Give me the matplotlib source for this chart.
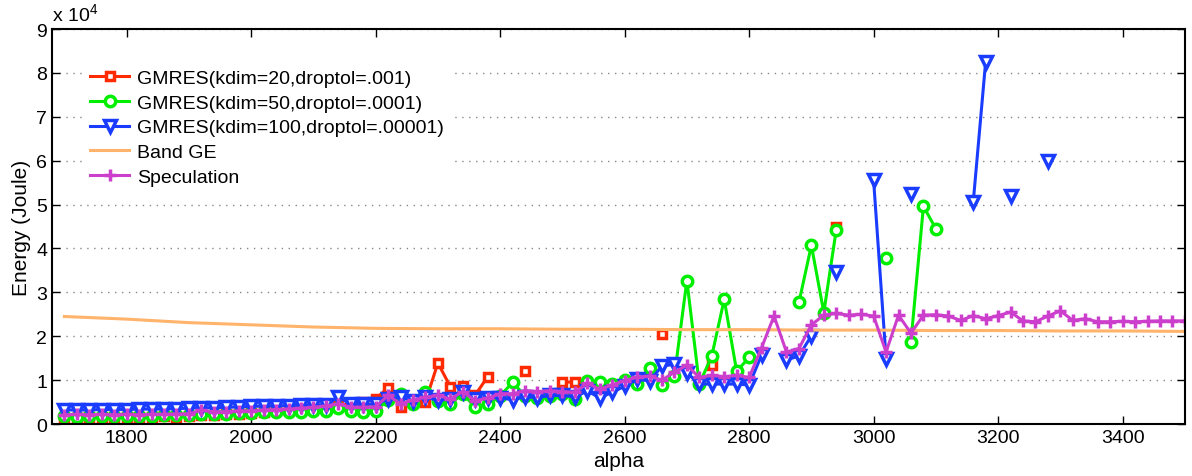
import numpy as np
import matplotlib
matplotlib.use('Agg')
import matplotlib.pyplot as plt

plt.rcParams['font.family'] = ['Liberation Sans', 'DejaVu Sans']
plt.rcParams['mathtext.fontset'] = 'custom'
plt.rcParams['mathtext.rm'] = 'Liberation Sans'

nan = np.nan

# alpha values, one point every 20
alpha = np.arange(1700, 3501, 20)

# energies in units of 1e4 Joule
gmres20 = [0.14, 0.13, 0.15, 0.14, 0.16, 0.15, 0.17, 0.16, 0.18, 0.17,
           0.19, 0.20, 0.20, 0.22, 0.23, 0.24, 0.27, 0.33, 0.32, 0.35,
           0.45, 0.40, 0.42, 0.46, 0.50, 0.57, 0.83, 0.38, 0.50, 0.51,
           1.39, 0.85, 0.87, 0.66, 1.08, nan, nan, 1.20, nan, nan,
           0.95, 0.96, nan, nan, nan, nan, nan, nan, 2.06, nan,
           nan, nan, 1.35, nan, nan, nan, nan, nan, nan, nan,
           nan, nan, 4.50, nan, nan, nan, nan, nan, nan, nan,
           nan, nan, nan, nan, nan, nan, nan, nan, nan, nan,
           nan, nan, nan, nan, nan, nan, nan, nan, nan, nan,
           nan]

gmres50 = [0.18, 0.17, 0.18, 0.18, 0.19, 0.18, 0.19, 0.19, 0.20, 0.20,
           0.21, 0.22, 0.22, 0.23, 0.24, 0.26, 0.27, 0.27, 0.28, 0.28,
           0.29, 0.30, 0.36, 0.29, 0.28, 0.30, 0.55, 0.68, 0.46, 0.73,
           0.53, 0.46, 0.69, 0.38, 0.45, 0.64, 0.95, 0.64, 0.59, 0.63,
           0.68, 0.57, 0.98, 0.95, 0.91, 1.00, 0.92, 1.27, 0.90, 1.10,
           3.27, 0.91, 1.55, 2.84, 1.20, 1.52, nan, nan, nan, 2.77,
           4.07, 2.54, 4.43, nan, nan, nan, 3.79, nan, 1.88, 4.96,
           4.45, nan, nan, nan, nan, nan, nan, nan, nan, nan,
           nan, nan, nan, nan, nan, nan, nan, nan, nan, nan,
           nan]

gmres100 = [0.32, 0.32, 0.32, 0.33, 0.33, 0.33, 0.34, 0.34, 0.34, 0.35,
            0.36, 0.37, 0.37, 0.38, 0.39, 0.40, 0.41, 0.41, 0.42, 0.43,
            0.43, 0.44, 0.62, 0.45, 0.45, 0.45, 0.57, 0.61, 0.53, 0.61,
            0.54, 0.57, 0.73, 0.58, 0.60, 0.60, 0.55, 0.62, 0.60, 0.65,
            0.65, 0.62, 0.75, 0.60, 0.72, 0.86, 1.02, 0.98, 1.32, 1.36,
            1.17, 0.91, 0.91, 0.91, 0.91, 0.89, 1.57, nan, 1.46, 1.55,
            2.01, nan, 3.46, nan, nan, 5.55, 1.49, nan, 5.23, nan,
            nan, nan, nan, 5.05, 8.26, nan, 5.19, nan, nan, 6.00,
            nan, nan, nan, nan, nan, nan, nan, nan, nan, nan,
            nan]

speculation = [0.21, 0.22, 0.21, 0.22, 0.21, 0.22, 0.21, 0.22, 0.22, 0.23,
               0.23, 0.31, 0.28, 0.28, 0.30, 0.30, 0.32, 0.33, 0.34, 0.36,
               0.38, 0.41, 0.46, 0.38, 0.38, 0.39, 0.65, 0.46, 0.55, 0.61,
               0.65, 0.57, 0.74, 0.53, 0.59, 0.69, 0.69, 0.76, 0.74, 0.76,
               0.74, 0.72, 0.93, 0.79, 0.89, 0.99, 1.07, 1.09, 1.00, 1.18,
               1.34, 1.06, 1.11, 1.08, 1.11, 1.06, 1.74, 2.46, 1.64, 1.72,
               2.26, 2.48, 2.52, 2.48, 2.50, 2.46, 1.64, 2.48, 2.07, 2.48,
               2.49, 2.46, 2.36, 2.47, 2.40, 2.47, 2.55, 2.35, 2.33, 2.46,
               2.58, 2.36, 2.40, 2.33, 2.33, 2.34, 2.33, 2.34, 2.35, 2.35,
               2.35]

band_alpha = np.arange(1700, 3501, 100)
band_ge = [2.45, 2.39, 2.31, 2.26, 2.21, 2.18, 2.17, 2.17, 2.16, 2.16,
           2.15, 2.15, 2.14, 2.14, 2.13, 2.13, 2.12, 2.12, 2.11]

fig = plt.figure(figsize=(11.92, 4.77), dpi=100)
ax = fig.add_axes([0.0436, 0.109, 0.9504, 0.828])

ax.plot(alpha, gmres20, color='#ff2a00', lw=2.2, marker='s', ms=6,
        mfc='white', mew=2.5, label='GMRES(kdim=20,droptol=.001)')
ax.plot(alpha, gmres50, color='#00ee00', lw=2.2, marker='o', ms=7.5,
        mfc='white', mew=2.5, label='GMRES(kdim=50,droptol=.0001)')
ax.plot(alpha, gmres100, color='#1a3cff', lw=2.2, marker='v', ms=8.5,
        mfc='white', mew=2.5, label='GMRES(kdim=100,droptol=.00001)')
ax.plot(band_alpha, band_ge, color='#ffb36b', lw=2.2, label='Band GE')
ax.plot(alpha, speculation, color='#cc3fcc', lw=2.2, marker='+', ms=8,
        mew=2.5, label='Speculation')

ax.set_xlim(1680, 3500)
ax.set_ylim(0, 9)
ax.set_xticks(range(1800, 3401, 200))
ax.set_yticks(range(0, 10))
ax.yaxis.grid(True, linestyle=(0, (1, 4)), color='#888888', lw=1)
ax.set_axisbelow(True)
ax.tick_params(direction='in', top=True, right=True, length=6,
               labelsize=14, width=1)
for s in ax.spines.values():
    s.set_linewidth(1.5)

ax.text(0, 1.01, r'x 10$^4$', transform=ax.transAxes, ha='left',
        va='bottom', fontsize=14)
ax.set_xlabel('alpha', fontsize=15, labelpad=4)
ax.set_ylabel('Energy (Joule)', fontsize=15, labelpad=4)

leg = ax.legend(loc='upper left', bbox_to_anchor=(0.027, 0.917), fontsize=14,
                frameon=True, fancybox=False, framealpha=1,
                handlelength=2.0, handletextpad=0.4, labelspacing=0.36,
                borderaxespad=0)
leg.get_frame().set_linewidth(0)

fig.savefig('out.png', dpi=100)
